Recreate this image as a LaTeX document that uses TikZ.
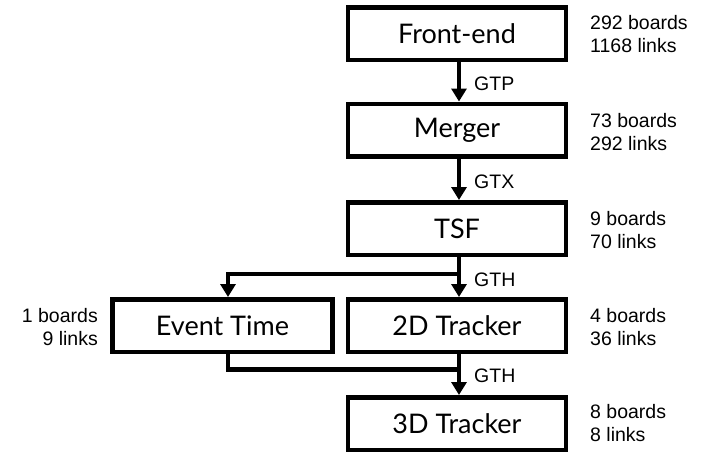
\documentclass[tikz,border=0pt]{standalone}
\usepackage{fontspec}
\setmainfont{Liberation Sans}
\newfontfamily\boxfont{Lato}
\usetikzlibrary{arrows.meta}
\begin{document}
\begin{tikzpicture}[x=1pt,y=-1pt,
  blk/.style={draw,line width=4.5pt,minimum height=52.5pt,inner sep=0pt,font=\boxfont\fontsize{27}{30}\selectfont},
  wide/.style={blk,minimum width=218pt},
  arr/.style={line width=4.5pt,-{Triangle[width=15pt,length=13pt]}},
  ln/.style={line width=4.5pt},
  lab/.style={font=\fontsize{19.5}{23}\selectfont,inner sep=0pt,align=left,anchor=west},
  labl/.style={font=\fontsize{19.5}{23}\selectfont,inner sep=0pt,align=right,anchor=east},
  elab/.style={font=\fontsize{19.5}{23}\selectfont,inner sep=0pt,anchor=west}]
\useasboundingbox (0,0) rectangle (705,453);
\node[wide] (fe) at (457,33.5) {Front-end};
\node[wide] (mg) at (457,130) {Merger};
\node[wide] (tsf) at (457,228.5) {TSF};
\node[wide] (td) at (457,325.5) {2D Tracker};
\node[blk,minimum width=220pt] (et) at (222.5,325.5) {Event Time};
\node[wide] (thd) at (457,423.5) {3D Tracker};
\coordinate (br) at (459,274);
\coordinate (jn) at (459,369.5);
\draw[arr] ([xshift=2pt]fe.south) -- ([xshift=2pt]mg.north);
\draw[arr] ([xshift=2pt]mg.south) -- ([xshift=2pt]tsf.north);
\draw[arr] ([xshift=2pt]tsf.south) -- ([xshift=2pt]td.north);
\draw[arr] (br) -| ([xshift=5.5pt]et.north);
\draw[arr] ([xshift=2pt]td.south) -- ([xshift=2pt]thd.north);
\draw[ln] ([xshift=5.5pt]et.south) |- (jn);
\node[elab] (l1) at (474,84) {GTP};
\node[elab] (l2) at (474,182) {GTX};
\node[elab] (l3) at (474,280) {GTH};
\node[elab] (l4) at (474,376) {GTH};
\node[lab] (r1) at (590,34) {292 boards\\1168 links};
\node[lab] (r2) at (590,132) {73 boards\\292 links};
\node[lab] (r3) at (590,230) {9 boards\\70 links};
\node[lab] (r4) at (590,327) {4 boards\\36 links};
\node[lab] (r5) at (590,423) {8 boards\\8 links};
\node[labl] (r6) at (98,327) {1 boards\\9 links};
\end{tikzpicture}
\end{document}
